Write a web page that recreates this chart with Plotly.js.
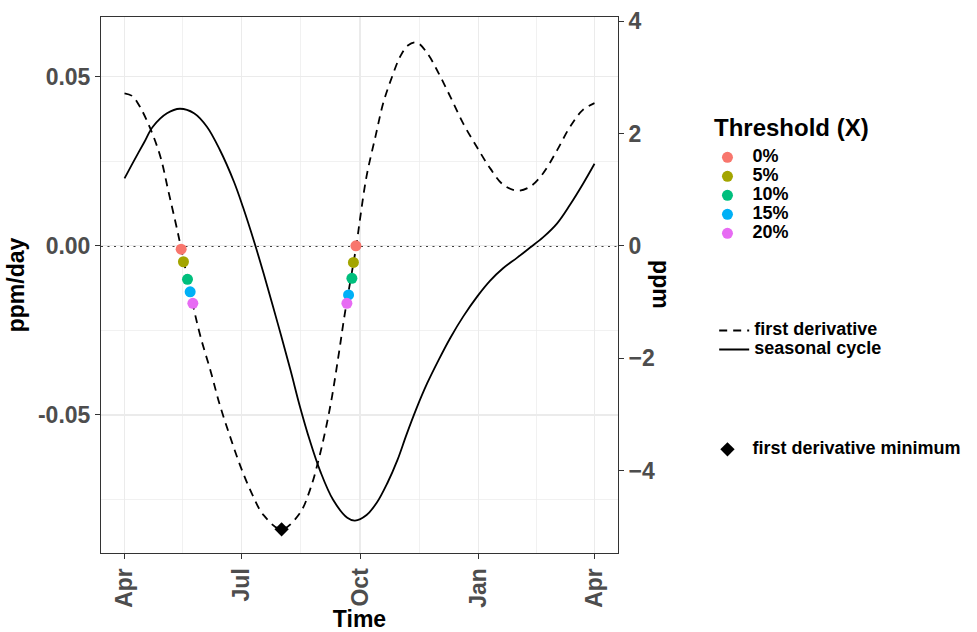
<!DOCTYPE html>
<html><head><meta charset="utf-8">
<script src="https://cdn.plot.ly/plotly-3.0.1.min.js"></script>
<style>body{margin:0;background:#fff}#chart{width:977px;height:632px}</style>
</head><body><div id="chart"></div>
<script>
// ---- data ----
const derivDates = ['2021-04-01','2021-04-07','2021-04-13','2021-04-21','2021-04-29','2021-05-05','2021-05-12','2021-05-15','2021-05-24','2021-05-30','2021-06-07','2021-06-14','2021-06-22','2021-06-30','2021-07-09','2021-07-18','2021-08-01','2021-08-15','2021-08-23','2021-08-31','2021-09-08','2021-09-14','2021-09-19','2021-09-28','2021-10-01','2021-10-06','2021-10-13','2021-10-19','2021-10-26','2021-11-01','2021-11-07','2021-11-14','2021-11-22','2021-12-01','2021-12-10','2021-12-20','2021-12-31','2022-01-10','2022-01-20','2022-01-31','2022-02-10','2022-02-20','2022-03-03','2022-03-13','2022-03-23','2022-04-01'];
const derivValues = [0.0451,0.0443,0.0411,0.0347,0.0262,0.0163,0.0046,-0.0008,-0.0172,-0.0268,-0.0372,-0.0470,-0.0564,-0.0651,-0.0733,-0.0796,-0.0838,-0.0791,-0.0722,-0.0613,-0.0470,-0.0330,-0.0203,0.0000,0.0082,0.0206,0.0325,0.0423,0.0502,0.0559,0.0592,0.0601,0.0570,0.0510,0.0441,0.0362,0.0290,0.0229,0.0181,0.0163,0.0175,0.0214,0.0283,0.0352,0.0402,0.0422];

const cycleDates = ['2021-04-01','2021-04-08','2021-04-16','2021-04-23','2021-05-04','2021-05-14','2021-05-25','2021-06-04','2021-06-14','2021-06-25','2021-07-02','2021-07-11','2021-07-18','2021-07-29','2021-08-08','2021-08-15','2021-08-23','2021-08-31','2021-09-10','2021-09-21','2021-09-27','2021-10-06','2021-10-14','2021-10-22','2021-10-30','2021-11-06','2021-11-14','2021-11-22','2021-12-01','2021-12-10','2021-12-20','2021-12-31','2022-01-10','2022-01-20','2022-01-31','2022-02-10','2022-02-20','2022-03-03','2022-03-13','2022-03-23','2022-04-01'];
const cycleValues = [1.20,1.50,1.83,2.12,2.36,2.44,2.36,2.12,1.71,1.14,0.69,0.05,-0.49,-1.38,-2.22,-2.84,-3.47,-4.01,-4.52,-4.84,-4.89,-4.79,-4.57,-4.23,-3.81,-3.36,-2.88,-2.45,-2.03,-1.64,-1.26,-0.90,-0.62,-0.40,-0.21,-0.03,0.15,0.40,0.73,1.10,1.46];

const thresholdLabels = ['0%','5%','10%','15%','20%'];
const springDates = ['2021-05-15 00:00','2021-05-16 19:00','2021-05-19 22:00','2021-05-22 00:00','2021-05-24 02:00'];
const springValues = [-0.0010,-0.0047,-0.0099,-0.0136,-0.0170];
const autumnDates = ['2021-09-27 17:00','2021-09-25 19:00','2021-09-24 14:00','2021-09-22 00:00','2021-09-20 17:00'];
const autumnValues = [0.0000,-0.0049,-0.0096,-0.0145,-0.0170];

const minDates = ['2021-08-01'];
const minValues = [-0.0838];

const xTickVals = ['2021-04-01','2021-07-01','2021-10-01','2022-01-01','2022-04-01'];
const xTickText = ['Apr','Jul','Oct','Jan','Apr'];
const xMinorVals = ['2021-05-16','2021-08-16','2021-11-16','2022-02-15'];
const yTickVals = [-0.05,0,0.05];
const yTickText = ['-0.05','0.00','0.05'];
const yMinorVals = [-0.075,-0.025,0.025];
const y2TickVals = [-4,-2,0,2,4];

// ---- styles ----
const colors = ['#F8766D','#A3A500','#00BF7D','#00B0F6','#E76BF3'];
const FONT = 'Liberation Sans, Arial, Helvetica, sans-serif';
const legText = s => '<span style="font-size:18px">' + s + '</span>';

const traces = [];
traces.push({
  x: derivDates, y: derivValues, type: 'scatter', mode: 'lines', name: legText('first derivative'),
  line: {color: '#000', width: 1.8, dash: '8px,6px', shape: 'spline', smoothing: 1.0},
  legend: 'legend2', yaxis: 'y', hoverinfo: 'skip'
});
traces.push({
  x: cycleDates, y: cycleValues, type: 'scatter', mode: 'lines', name: legText('seasonal cycle'),
  line: {color: '#000', width: 1.8, shape: 'spline', smoothing: 1.0},
  legend: 'legend2', yaxis: 'y2', hoverinfo: 'skip'
});
traces.push({
  x: minDates, y: minValues, type: 'scatter', mode: 'markers', name: legText('first derivative minimum'),
  marker: {symbol: 'diamond', size: 11, color: '#000'},
  legend: 'legend3', yaxis: 'y'
});
thresholdLabels.forEach((lab, i) => {
  traces.push({
    x: [springDates[i], autumnDates[i]], y: [springValues[i], autumnValues[i]],
    type: 'scatter', mode: 'markers', name: legText(lab),
    marker: {size: 11, color: colors[i]}, legend: 'legend', yaxis: 'y'
  });
});

const gridC = '#EBEBEB';
const tickFont = {size: 23, color: '#4D4D4D', weight: 'bold'};
const layout = {
  width: 977, height: 632,
  margin: {l: 101, r: 359, t: 17, b: 79},
  paper_bgcolor: '#fff', plot_bgcolor: '#fff',
  font: {family: FONT, color: '#000'},
  showlegend: true,
  xaxis: {
    type: 'date', range: ['2021-03-13 18:00', '2022-04-19 06:00'],
    tickmode: 'array', tickvals: xTickVals, ticktext: xTickText, tickangle: -90,
    tickfont: tickFont,
    ticks: 'outside', ticklen: 5, tickcolor: '#333', tickwidth: 1,
    showgrid: true, gridcolor: gridC, gridwidth: 1.3,
    minor: {tickmode: 'array', tickvals: xMinorVals, showgrid: true, gridcolor: gridC, gridwidth: 0.7, ticks: ''},
    showline: true, mirror: true, linecolor: '#333', linewidth: 1,
    zeroline: false,
    title: {text: 'Time', font: {size: 23, weight: 'bold'}, standoff: 10}
  },
  yaxis: {
    range: [-0.0908, 0.06765], tickmode: 'array', tickvals: yTickVals, ticktext: yTickText,
    tickfont: tickFont,
    ticks: 'outside', ticklen: 5, tickcolor: '#333', tickwidth: 1,
    showgrid: true, gridcolor: gridC, gridwidth: 1.3,
    minor: {tickmode: 'array', tickvals: yMinorVals, showgrid: true, gridcolor: gridC, gridwidth: 0.7, ticks: ''},
    showline: true, mirror: true, linecolor: '#333', linewidth: 1,
    zeroline: false,
    title: {text: 'ppm/day', font: {size: 23, weight: 'bold'}, standoff: 6}
  },
  yaxis2: {
    overlaying: 'y', side: 'right', range: [-5.467, 4.073],
    tickmode: 'array', tickvals: y2TickVals,
    tickfont: tickFont,
    ticks: 'outside', ticklen: 5, tickcolor: '#333', tickwidth: 1,
    showgrid: false, zeroline: false, showline: false
  },
  shapes: [{
    type: 'line', xref: 'paper', x0: 0, x1: 1, yref: 'y', y0: 0, y1: 0,
    line: {color: '#000', width: 1.6, dash: '2px,4.5px'}, layer: 'between'
  }],
  annotations: [{
    text: 'ppm', xref: 'paper', yref: 'paper', x: 1.083, y: 0.5, showarrow: false,
    textangle: 90, font: {size: 23, weight: 'bold', color: '#000'}, xanchor: 'center', yanchor: 'middle'
  }, {
    text: 'Threshold (X)', xref: 'paper', yref: 'paper', x: 1.1864, y: 0.794, showarrow: false,
    font: {size: 24, weight: 'bold', color: '#000'}, xanchor: 'left', yanchor: 'middle', xshift: -2
  }],
  legend: {
    xref: 'container', yref: 'container', x: 0.719, y: 0.774, xanchor: 'left', yanchor: 'top',
    bgcolor: 'rgba(0,0,0,0)', borderwidth: 0, traceorder: 'normal', itemwidth: 40,
    font: {size: 11, weight: 'bold', color: '#000'}
  },
  legend2: {
    xref: 'container', yref: 'container', x: 0.731, y: 0.5, xanchor: 'left', yanchor: 'top',
    bgcolor: 'rgba(0,0,0,0)', borderwidth: 0, traceorder: 'normal',
    font: {size: 11, weight: 'bold', color: '#000'}
  },
  legend3: {
    xref: 'container', yref: 'container', x: 0.719, y: 0.312, xanchor: 'left', yanchor: 'top',
    bgcolor: 'rgba(0,0,0,0)', borderwidth: 0, itemwidth: 40,
    font: {size: 11, weight: 'bold', color: '#000'}
  }
};

Plotly.newPlot('chart', traces, layout, {displayModeBar: false, staticPlot: true});
</script>
</body></html>
